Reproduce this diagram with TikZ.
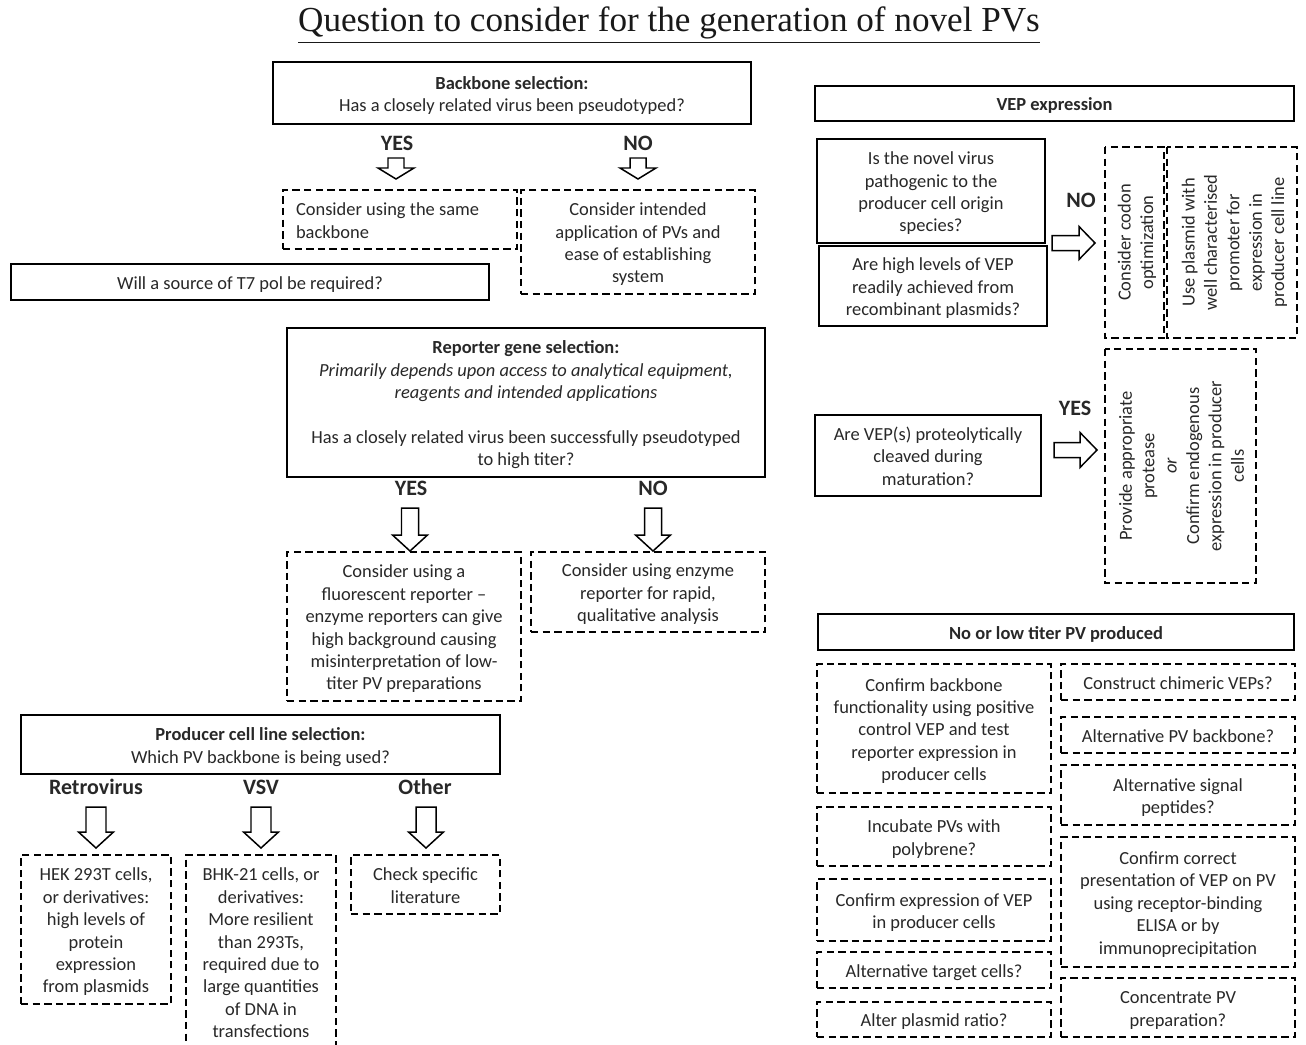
\documentclass[tikz,border=0pt]{standalone}
\usepackage{fontspec}
\setmainfont{Carlito}
\newfontfamily\titlefont{Liberation Serif}
\definecolor{txt}{RGB}{40,40,40}
\newcommand{\bx}[8][]{%
  \pgfmathsetmacro\bxw{(#6-#4)*0.02}%
  \pgfmathsetmacro\bxh{(#7-#5)*0.02}%
  \node[#2, minimum width=\bxw cm, minimum height=\bxh cm, #1] (#3) at ({(#4+#6)/2},{(#5+#7)/2}) {\rule{0pt}{11pt}#8\rule[-2.6pt]{0pt}{0pt}};}
\newcommand{\rbx}[8][]{%
  \pgfmathsetmacro\bxw{(#6-#4)*0.02}%
  \pgfmathsetmacro\bxh{(#7-#5)*0.02}%
  \node[#2, rotate=90, minimum width=\bxh cm, minimum height=\bxw cm, #1] (#3) at ({(#4+#6)/2},{(#5+#7)/2}) {\rule{0pt}{11pt}#8\rule[-2.6pt]{0pt}{0pt}};}
\newcommand{\darr}[6]{%
  \draw[barrow] ({#1-#5},#2) -- ({#1+#5},#2) -- ({#1+#5},#3) -- ({#1+#6},#3) -- (#1,#4) -- ({#1-#6},#3) -- ({#1-#5},#3) -- cycle;}
\newcommand{\rarr}[6]{%
  \draw[barrow] (#2,{#1-#5}) -- (#3,{#1-#5}) -- (#3,{#1-#6}) -- (#4,#1) -- (#3,{#1+#6}) -- (#3,{#1+#5}) -- (#2,{#1+#5}) -- cycle;}
\begin{document}
\begin{tikzpicture}[x=0.02cm, y=-0.02cm,
  every node/.style={font=\fontsize{10.5}{12.75}\selectfont, text=txt, inner sep=0pt, align=center},
  sbox/.style={draw=black, line width=0.85pt},
  dbox/.style={draw=black, line width=0.85pt, dash pattern=on 4.2pt off 2.4pt},
  lab/.style={font=\bfseries\fontsize{12.5}{14}\selectfont},
  barrow/.style={draw=black, line width=0.85pt, fill=white, line join=miter}]
\fill[white] (0,0) rectangle (1306,1045);
\useasboundingbox (0,0) rectangle (1306,1045);

\node[font=\titlefont\fontsize{20}{24}\selectfont, text=black!90] (title) at (669,25) {\underline{Question to consider for the generation of novel PVs}};

% Backbone
\bx{sbox}{bb}{273}{62}{751}{124}{\textbf{Backbone selection:}\\Has a closely related virus been pseudotyped?}
\node[lab] (yes1) at (397,143) {YES};
\node[lab] (no1) at (638,143) {NO};
\darr{396}{158}{168}{179}{8}{18}
\darr{638}{158}{168}{179}{8}{18}
\bx{dbox}{same}{283}{190}{517}{249}{\makebox[4.16cm][l]{Consider using the same}\\\makebox[4.16cm][l]{backbone}}
\bx{dbox}{intended}{521}{190}{755}{294}{Consider intended\\application of PVs and\\ease of establishing\\system}
\bx{sbox}{t7}{11}{264}{489}{300}{Will a source of T7 pol be required?}

% Reporter
\bx{sbox}{rep}{287}{328}{765}{477}{\textbf{Reporter gene selection:}\\\textit{Primarily depends upon access  to analytical equipment,}\\\textit{reagents  and intended applications}\\\mbox{}\\Has a closely related virus been successfully pseudotyped\\to high titer?}
\node[lab] (yes2) at (411,488) {YES};
\node[lab] (no2) at (653,488) {NO};
\darr{410}{508}{535}{551}{8.5}{17.5}
\darr{653}{508}{535}{551}{8.5}{17.5}
\bx{dbox}{fluor}{287}{552}{521}{701}{Consider using a\\fluorescent reporter \textendash\\enzyme reporters can give\\high background causing\\misinterpretation of low-\\titer PV preparations}
\bx{dbox}{enzyme}{531}{552}{765}{632}{Consider using enzyme\\reporter for rapid,\\qualitative analysis}

% Producer
\bx{sbox}{prod}{21}{715}{500}{774}{\textbf{Producer cell line selection:}\\Which PV backbone is being used?}
\node[lab] (retro) at (96,787) {Retrovirus};
\node[lab] (vsv) at (261,787) {VSV};
\node[lab] (oth) at (425,787) {Other};
\darr{96}{807}{832}{848}{10}{17.5}
\darr{261}{807}{832}{848}{10}{17.5}
\darr{426}{807}{832}{848}{10}{17.5}
\bx{dbox}{hek}{21}{855}{171}{1004}{HEK 293T cells,\\or derivatives:\\high levels of\\protein\\expression\\from plasmids}
\bx{dbox}{bhk}{186}{855}{336}{1049}{BHK-21 cells, or\\derivatives:\\More resilient\\than 293Ts,\\required due to\\large quantities\\of DNA in\\transfections}
\bx{dbox}{lit}{351}{855}{500}{914}{Check specific\\literature}

% VEP expression
\bx{sbox}{vep}{815}{86}{1294}{121}{\textbf{VEP expression}}
\bx{sbox}{q1}{817}{139}{1045}{243}{Is the novel virus\\pathogenic to the\\producer cell origin\\species?}
\bx{sbox}{q2}{819}{246}{1047}{326}{Are high levels of VEP\\readily achieved from\\recombinant plasmids?}
\node[lab] (no3) at (1081,200) {NO};
\rarr{243}{1052}{1079}{1095}{7.5}{16.5}
\rbx{dbox}{codon}{1105}{147}{1164}{338}{Consider codon\\optimization}
\rbx{dbox}{plasmid}{1167}{147}{1297}{338}{Use plasmid with\\well characterised\\promoter for\\expression in\\producer cell line}
\bx{sbox}{q3}{815}{415}{1041}{496}{Are VEP(s) proteolytically\\cleaved during\\maturation?}
\node[lab] (yes3) at (1075,408) {YES};
\rarr{450}{1054}{1080}{1097}{7.5}{17.5}
\rbx{dbox}{protease}{1105}{349}{1256}{583}{Provide appropriate\\protease\\\textit{or}\\Confirm endogenous\\expression in producer\\cells}

% No or low titer
\bx{sbox}{low}{818}{614}{1294}{650}{\textbf{No or low titer PV produced}}
\bx{dbox}{l1}{817}{664}{1051}{793}{Confirm backbone\\functionality using positive\\control VEP and test\\reporter expression in\\producer cells}
\bx{dbox}{l2}{817}{807}{1051}{866}{Incubate PVs with\\polybrene?}
\bx{dbox}{l3}{817}{879}{1051}{941}{Confirm expression of VEP\\in producer cells}
\bx{dbox}{l4}{817}{952}{1051}{988}{Alternative target cells?}
\bx{dbox}{l5}{817}{1002}{1051}{1037}{Alter plasmid ratio?}
\bx{dbox}{r1}{1061}{664}{1295}{700}{Construct chimeric VEPs?}
\bx{dbox}{r2}{1061}{717}{1295}{753}{Alternative PV backbone?}
\bx{dbox}{r3}{1061}{765}{1295}{825}{Alternative signal\\peptides?}
\bx{dbox}{r4}{1061}{837}{1295}{967}{Confirm correct\\presentation of VEP on PV\\using receptor-binding\\ELISA or by\\immunoprecipitation}
\bx{dbox}{r5}{1061}{978}{1295}{1037}{Concentrate PV\\preparation?}
\end{tikzpicture}
\end{document}
